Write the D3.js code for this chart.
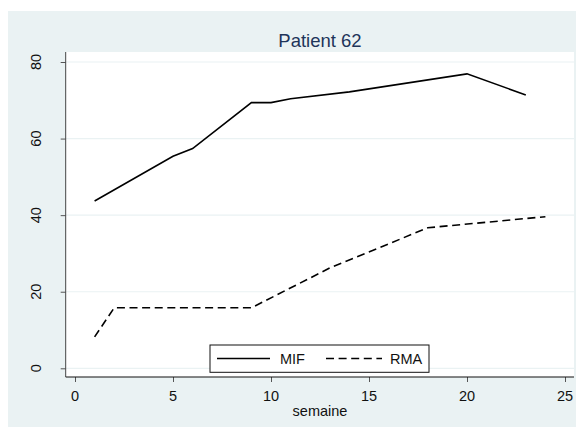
<!DOCTYPE html>
<html><head><meta charset="utf-8">
<script src="https://cdn.jsdelivr.net/npm/d3@7"></script>
<style>body{margin:0;background:#fff}svg{display:block;font-family:"Liberation Sans",Arial,sans-serif}</style>
</head><body><svg id="c" width="576" height="428"></svg>
<script>
const title = "Patient 62";
const xLabel = "semaine";
const xTicks = [0, 5, 10, 15, 20, 25];
const yTicks = [0, 20, 40, 60, 80];
const mifWeeks = [1, 5, 6, 9, 10, 11, 14, 20, 23];
const mifValues = [43.7, 55.4, 57.4, 69.4, 69.4, 70.4, 72.2, 76.9, 71.4];
const rmaWeeks = [1, 2, 9, 13, 18, 24];
const rmaValues = [8.2, 15.8, 15.8, 26.2, 36.7, 39.6];
const seriesNames = ["MIF", "RMA"];

const svg = d3.select("#c");
const P = {l: 65.7, r: 574, t: 52, b: 377};
const x = d3.scaleLinear().domain([0, 25]).range([75, 565]);
const y = d3.scaleLinear().domain([0, 80]).range([368.3, 62]);

svg.append("rect").attr("x", 8).attr("y", 11).attr("width", 576 - 8).attr("height", 427 - 11).attr("fill", "#eaf2f3");
svg.append("rect").attr("x", P.l).attr("y", P.t).attr("width", P.r - P.l).attr("height", P.b - P.t).attr("fill", "#fff");

// grid
svg.append("g").selectAll("line").data(yTicks).join("line")
  .attr("x1", P.l).attr("x2", P.r).attr("y1", d => y(d)).attr("y2", d => y(d))
  .attr("stroke", "#eaf2f3").attr("stroke-width", 1.2);

// axes
const yAxis = svg.append("g").attr("transform", `translate(${P.l},0)`)
  .call(d3.axisLeft(y).tickValues(yTicks).tickSize(5).tickFormat(""));
yAxis.select(".domain").remove();
yAxis.selectAll(".tick line").attr("stroke", "#555");
svg.append("line").attr("x1", P.l).attr("x2", P.l).attr("y1", P.t).attr("y2", P.b).attr("stroke", "#444").attr("stroke-width", 1);
svg.append("g").selectAll("text").data(yTicks).join("text")
  .attr("transform", d => `translate(41,${y(d)}) rotate(-90)`)
  .attr("text-anchor", "middle").attr("font-size", 14.5).attr("fill", "#111").text(d => d);

const xAxis = svg.append("g").attr("transform", `translate(0,${P.b})`)
  .call(d3.axisBottom(x).tickValues(xTicks).tickSize(5).tickFormat(""));
xAxis.select(".domain").remove();
xAxis.selectAll(".tick line").attr("stroke", "#555");
svg.append("line").attr("x1", P.l).attr("x2", P.r).attr("y1", P.b).attr("y2", P.b).attr("stroke", "#111").attr("stroke-width", 1.2);
svg.append("g").selectAll("text").data(xTicks).join("text")
  .attr("x", d => x(d)).attr("y", 400.7).attr("text-anchor", "middle")
  .attr("font-size", 14.5).attr("fill", "#111").text(d => d);

svg.append("text").attr("x", 320).attr("y", 415.5).attr("text-anchor", "middle")
  .attr("font-size", 14.5).attr("fill", "#111").text(xLabel);
svg.append("text").attr("x", 320).attr("y", 46.5).attr("text-anchor", "middle")
  .attr("font-size", 18.5).attr("fill", "#1e355a").text(title);

// lines
const line = d3.line().x(d => x(d[0])).y(d => y(d[1]));
const mif = mifWeeks.map((w, i) => [w, mifValues[i]]);
const rma = rmaWeeks.map((w, i) => [w, rmaValues[i]]);
svg.append("path").attr("d", line(mif)).attr("fill", "none").attr("stroke", "#000").attr("stroke-width", 1.6);
svg.append("path").attr("d", line(rma)).attr("fill", "none").attr("stroke", "#000").attr("stroke-width", 1.6).attr("stroke-dasharray", "8,4.6");

// legend
const L = svg.append("g");
L.append("rect").attr("x", 210).attr("y", 345).attr("width", 219).attr("height", 27.3).attr("fill", "#fff").attr("stroke", "#111").attr("stroke-width", 1);
L.append("line").attr("x1", 217).attr("x2", 270).attr("y1", 358.5).attr("y2", 358.5).attr("stroke", "#000").attr("stroke-width", 1.6);
L.append("line").attr("x1", 326).attr("x2", 382).attr("y1", 358.5).attr("y2", 358.5).attr("stroke", "#000").attr("stroke-width", 1.6).attr("stroke-dasharray", "8,4.6");
L.append("text").attr("x", 280).attr("y", 364).attr("font-size", 14.5).attr("fill", "#111").text(seriesNames[0]);
L.append("text").attr("x", 390).attr("y", 364).attr("font-size", 14.5).attr("fill", "#111").text(seriesNames[1]);
</script></body></html>
